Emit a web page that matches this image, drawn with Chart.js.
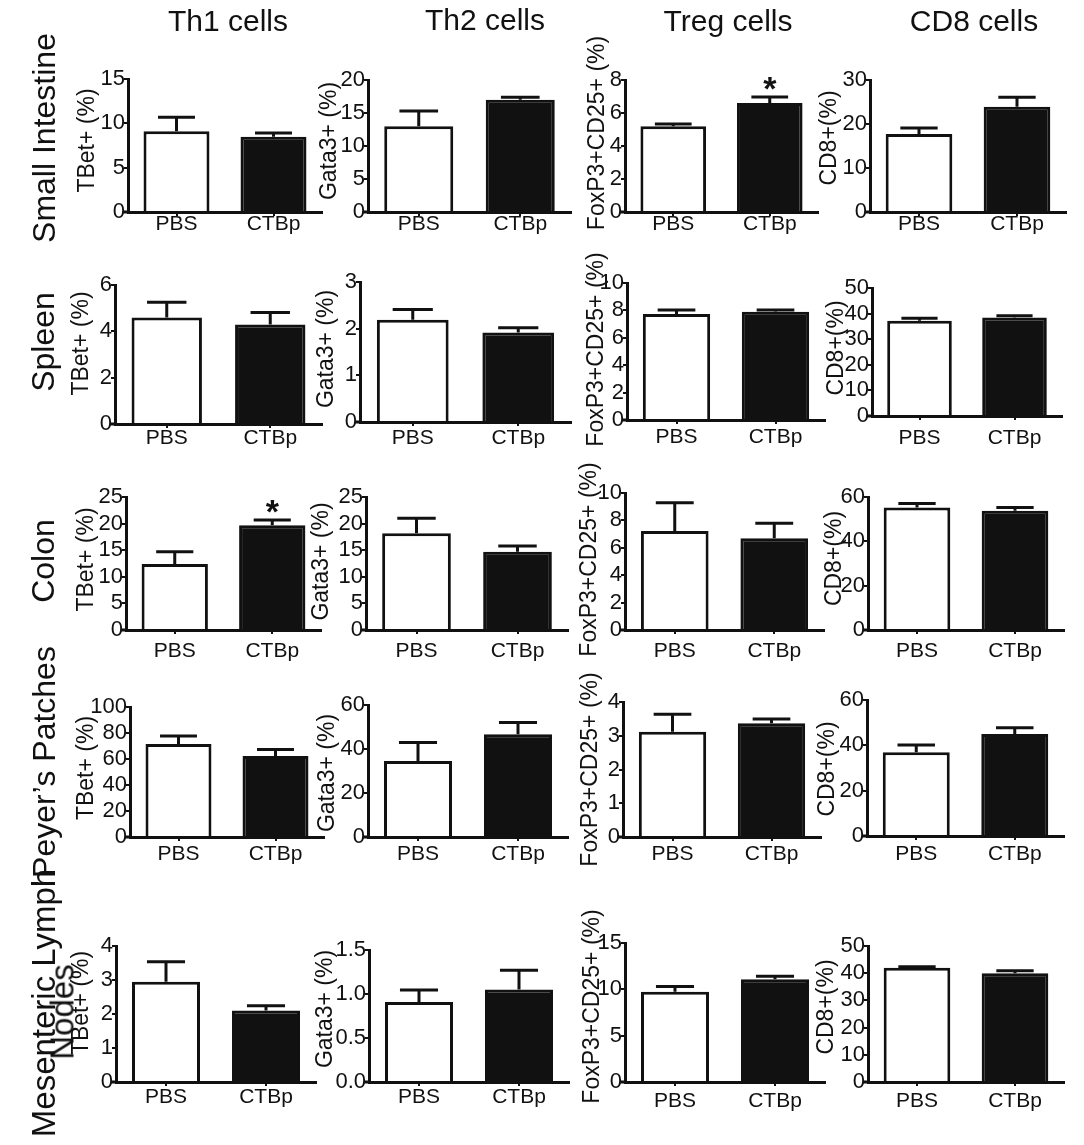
<!DOCTYPE html>
<html>
<head>
<meta charset="utf-8">
<script src="https://cdn.jsdelivr.net/npm/chart.js@4.4.1/dist/chart.umd.min.js"></script>
<style>
  html, body { margin: 0; padding: 0; background: #fff; }
  #fig { position: relative; width: 1084px; height: 1145px; overflow: hidden; background: #fff;
         font-family: "Liberation Sans", Arial, sans-serif; color: #111; }
  #fig canvas { position: absolute; }
  .col-title { position: absolute; font-size: 30px; line-height: 1; white-space: nowrap;
               transform: translate(-50%, -50%); }
  .row-title { position: absolute; font-size: 32px; line-height: 1; white-space: nowrap;
               transform: translate(-50%, -50%) rotate(-90deg); }
  .row-title.long { font-size: 33px; }
</style>
</head>
<body>
<div id="fig"></div>
<script>
// ---- data ----
const groups = ['PBS', 'CTBp'];
const cellTypes = ['Th1 cells', 'Th2 cells', 'Treg cells', 'CD8 cells'];
const tissues = ['Small Intestine', 'Spleen', 'Colon', 'Peyer\u2019s Patches', 'Mesenteric Lymph Nodes'];
const markerLabels = ['TBet+ (%)', 'Gata3+ (%)', 'FoxP3+CD25+ (%)', 'CD8+(%)'];

// mean and SEM, [PBS, CTBp] for each tissue (same order as tissues)
const th1Mean  = [[9.1, 8.5], [4.6, 4.3], [12.4, 19.7], [71.5, 62.3], [2.95, 2.1]];
const th1Sem   = [[1.6, 0.4], [0.66, 0.51], [2.3, 1.0], [6.2, 5.1], [0.59, 0.14]];
const th2Mean  = [[13.0, 17.0], [2.19, 1.92], [18.2, 14.7], [34.5, 46.7], [0.91, 1.05]];
const th2Sem   = [[2.3, 0.4], [0.22, 0.1], [2.8, 1.1], [8.5, 5.3], [0.135, 0.22]];
const tregMean = [[5.2, 6.6], [7.74, 7.9], [7.23, 6.69], [3.12, 3.37], [9.75, 11.08]];
const tregSem  = [[0.13, 0.37], [0.29, 0.13], [2.06, 1.1], [0.52, 0.13], [0.55, 0.32]];
const cd8Mean  = [[17.7, 23.9], [37.2, 38.5], [55.3, 53.8], [36.9, 45.0], [42.0, 40.0]];
const cd8Sem   = [[1.4, 2.2], [1.0, 0.7], [1.8, 1.5], [3.2, 2.8], [0.4, 0.9]];

// significance (*) flags, [PBS, CTBp]
const th1Sig  = [[0, 0], [0, 0], [0, 1], [0, 0], [0, 0]];
const th2Sig  = [[0, 0], [0, 0], [0, 0], [0, 0], [0, 0]];
const tregSig = [[0, 1], [0, 0], [0, 0], [0, 0], [0, 0]];
const cd8Sig  = [[0, 0], [0, 0], [0, 0], [0, 0], [0, 0]];

// y axis [max, step]
const th1Axis  = [[15, 5], [6, 2], [25, 5], [100, 20], [4, 1]];
const th2Axis  = [[20, 5], [3, 1], [25, 5], [60, 20], [1.5, 0.5]];
const tregAxis = [[8, 2], [10, 2], [10, 2], [4, 1], [15, 5]];
const cd8Axis  = [[30, 10], [50, 10], [60, 20], [60, 20], [50, 10]];

const meanSets = [th1Mean, th2Mean, tregMean, cd8Mean];
const semSets  = [th1Sem, th2Sem, tregSem, cd8Sem];
const sigSets  = [th1Sig, th2Sig, tregSig, cd8Sig];
const axisSets = [th1Axis, th2Axis, tregAxis, cd8Axis];

// ---- layout: [axisX, topY, rightX, baseY, yTitleDX, yTitleDY, xLabelY] per panel ----
const panelBox = [
  [[128, 79, 322, 212, 40, -5, 224], [368, 80, 571, 212, 38, -5, 224], [625, 80, 818, 212, 27, -13, 224], [870, 80, 1066, 212, 40, -8, 224]],
  [[115, 285, 322, 424, 33, -11, 438], [360, 282, 571, 422, 33, -3, 438], [627, 283, 825, 420, 30, -2, 437], [872, 288, 1062, 416, 35, -4, 438]],
  [[126, 497, 321, 630, 39, -4, 651], [366, 497, 568, 630, 44, -2, 651], [625, 493, 824, 630, 35, -2, 651], [868, 497, 1064, 630, 33, -5, 651]],
  [[130, 707, 324, 837, 43, -4, 854], [368, 705, 568, 837, 40, 2, 854], [623, 702, 821, 837, 32, 0, 854], [867, 700, 1064, 836, 39, 1, 854]],
  [[116, 946, 316, 1082, 34, -11, 1097], [369, 950, 569, 1082, 43, -7, 1097], [625, 943, 825, 1082, 32, -6, 1101], [868, 946, 1064, 1082, 41, -7, 1101]]
];
const colTitlePos = [[228, 21], [485, 20], [728, 21], [974, 21]];
const rowTitlePos = [[44, 138], [43, 342], [43, 561], [44, 762], null];

const INK = '#111111';
const FONT = '"Liberation Sans", Arial, sans-serif';
Chart.defaults.font.family = FONT;
Chart.defaults.color = INK;

// error bars, significance stars and the rotated y-axis title
const decor = {
  id: 'decor',
  afterDatasetsDraw(chart, args, o) {
    const { ctx, chartArea: ca } = chart;
    const ys = chart.scales.y;
    const vals = chart.data.datasets[0].data;
    const meta = chart.getDatasetMeta(0);
    ctx.save();
    ctx.strokeStyle = INK;
    ctx.fillStyle = INK;
    ctx.lineWidth = 3;
    ctx.lineCap = 'butt';
    // x axis line runs a little past the y axis on the left
    ctx.beginPath();
    ctx.moveTo(ca.left - 5, ca.bottom);
    ctx.lineTo(ca.left, ca.bottom);
    ctx.stroke();
    meta.data.forEach((bar, i) => {
      const yBar = ys.getPixelForValue(vals[i]);
      const yErr = ys.getPixelForValue(vals[i] + o.sem[i]);
      const cap = bar.width * 0.28;
      ctx.beginPath();
      ctx.moveTo(bar.x, yBar);
      ctx.lineTo(bar.x, yErr);
      ctx.moveTo(bar.x - cap, yErr);
      ctx.lineTo(bar.x + cap, yErr);
      ctx.stroke();
      if (o.sig[i]) {
        ctx.font = 'bold 34px ' + FONT;
        ctx.textAlign = 'center';
        ctx.textBaseline = 'alphabetic';
        const m = ctx.measureText('*');
        const cy = yErr - 13;
        ctx.fillText('*', bar.x, cy + (m.actualBoundingBoxAscent - m.actualBoundingBoxDescent) / 2);
      }
    });
    ctx.translate(ca.left - o.titleDX, (ca.top + ca.bottom) / 2 + o.titleDY);
    ctx.rotate(-Math.PI / 2);
    ctx.font = '23px ' + FONT;
    ctx.textAlign = 'center';
    ctx.textBaseline = 'middle';
    ctx.fillText(o.title, 0, 0);
    ctx.restore();
  }
};

const fig = document.getElementById('fig');
const LW = 100, TP = 70, RP = 14, BP = 50, TICK = 4;

tissues.forEach((tissue, r) => {
  cellTypes.forEach((cell, k) => {
    const [ax, top, right, base, tdx, tdy, labelY] = panelBox[r][k];
    const [yMax, yStep] = axisSets[k][r];
    const w = right - ax + LW + RP;
    const h = base - top + TP + BP;
    const cv = document.createElement('canvas');
    cv.width = w; cv.height = h;
    cv.style.width = w + 'px'; cv.style.height = h + 'px';
    cv.style.left = (ax - LW) + 'px';
    cv.style.top = (top - TP) + 'px';
    fig.appendChild(cv);

    new Chart(cv, {
      type: 'bar',
      data: {
        labels: groups,
        datasets: [{
          data: meanSets[k][r],
          backgroundColor: ['#ffffff', INK],
          borderColor: INK,
          borderWidth: 3,
          barPercentage: 0.68,
          categoryPercentage: 1.0
        }]
      },
      options: {
        responsive: false,
        animation: false,
        devicePixelRatio: 1,
        layout: { padding: { left: 0, top: TP, right: RP, bottom: 0 } },
        plugins: {
          legend: { display: false },
          tooltip: { enabled: false },
          decor: { sem: semSets[k][r], sig: sigSets[k][r], title: markerLabels[k], titleDX: tdx, titleDY: tdy }
        },
        scales: {
          x: {
            offset: true,
            afterFit: s => { s.height = BP; },
            border: { display: true, color: INK, width: 3 },
            grid: { display: true, drawOnChartArea: false, drawTicks: true, offset: false,
                    tickLength: TICK, color: INK, lineWidth: 2 },
            ticks: { font: { size: 21, lineHeight: 1 }, color: INK, padding: labelY - base - TICK - 10.5,
                     maxRotation: 0, autoSkip: false }
          },
          y: {
            min: 0,
            max: yMax,
            afterFit: s => { s.width = LW; },
            border: { display: true, color: INK, width: 3 },
            grid: { display: true, drawOnChartArea: false, drawTicks: true,
                    tickLength: TICK, color: INK, lineWidth: 2 },
            ticks: {
              stepSize: yStep, autoSkip: false, padding: -1, color: INK,
              font: { size: 22, lineHeight: 1 },
              callback: v => (yStep < 1 ? Number(v).toFixed(1) : String(Math.round(v)))
            }
          }
        }
      },
      plugins: [decor]
    });
  });
});

// column and row headings
cellTypes.forEach((c, k) => {
  const d = document.createElement('div');
  d.className = 'col-title';
  d.textContent = c;
  d.style.left = colTitlePos[k][0] + 'px';
  d.style.top = colTitlePos[k][1] + 'px';
  fig.appendChild(d);
});
tissues.forEach((t, r) => {
  if (!rowTitlePos[r]) return;
  const d = document.createElement('div');
  d.className = 'row-title';
  d.textContent = t;
  d.style.left = rowTitlePos[r][0] + 'px';
  d.style.top = rowTitlePos[r][1] + 'px';
  fig.appendChild(d);
});
// the last tissue name wraps onto two rotated lines
const mlnWords = tissues[4].split(' ');
[[mlnWords.slice(0, 2).join(' '), 43, 1003], [mlnWords[2], 62, 1012]].forEach(([txt, x, y]) => {
  const d = document.createElement('div');
  d.className = 'row-title long';
  d.textContent = txt;
  d.style.left = x + 'px';
  d.style.top = y + 'px';
  fig.appendChild(d);
});
</script>
</body>
</html>
